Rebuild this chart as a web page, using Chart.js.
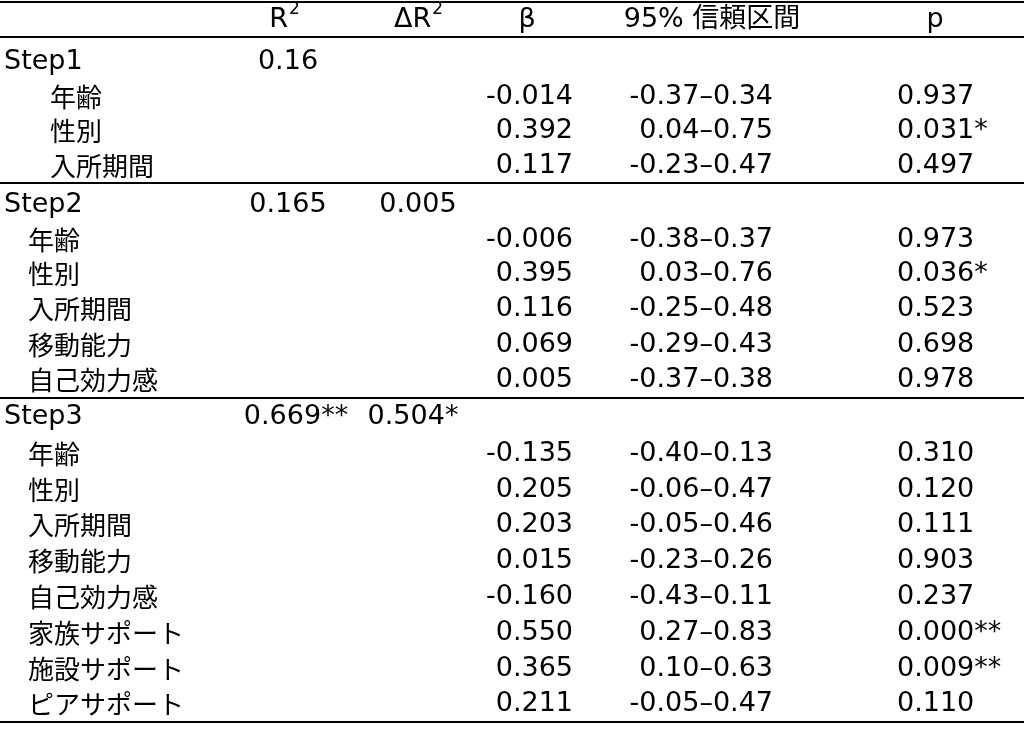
<!DOCTYPE html>
<html><head><meta charset="utf-8">
<script src="https://cdn.jsdelivr.net/npm/chart.js@4"></script>
<style>html,body{margin:0;padding:0;background:#fff}#w{width:1024px;height:741px}</style>
</head><body><div id="w"><canvas id="c"></canvas></div>
<script>
const headers = ["R2","ΔR2","β","95% 信頼区間","p"];
const labels = ["Step1","年齢","性別","入所期間","Step2","年齢","性別","入所期間","移動能力","自己効力感","Step3","年齢","性別","入所期間","移動能力","自己効力感","家族サポート","施設サポート","ピアサポート"];
const r2 = ["0.16","","","","0.165","","","","","","0.669**","","","","","","","",""];
const dr2 = ["","","","","0.005","","","","","","0.504*","","","","","","","",""];
const beta = ["","-0.014","0.392","0.117","","-0.006","0.395","0.116","0.069","0.005","","-0.135","0.205","0.203","0.015","-0.160","0.550","0.365","0.211"];
const ci = ["","-0.37–0.34","0.04–0.75","-0.23–0.47","","-0.38–0.37","0.03–0.76","-0.25–0.48","-0.29–0.43","-0.37–0.38","","-0.40–0.13","-0.06–0.47","-0.05–0.46","-0.23–0.26","-0.43–0.11","0.27–0.83","0.10–0.63","-0.05–0.47"];
const pv = ["","0.937","0.031*","0.497","","0.973","0.036*","0.523","0.698","0.978","","0.310","0.120","0.111","0.903","0.237","0.000**","0.009**","0.110"];
const rowY = [62,97,131,166,205,240,274,309,345,380,417,454,490,525,561,597,633,669,704];
const ruleY = [2,37,183,398,722];
const F = '27px "DejaVu Sans","Noto Sans CJK JP",sans-serif';
const FC = '26px "Noto Sans CJK JP",sans-serif';
const tablePlugin = {id:'table', afterDraw(ch){
  const c = ch.ctx, X = ch.scales.x, Y = ch.scales.y;
  const px = v => X.getPixelForValue(v), py = v => Y.getPixelForValue(v);
  c.save(); c.fillStyle='#000'; c.strokeStyle='#000'; c.lineWidth=2;
  ruleY.forEach(y=>{c.beginPath();c.moveTo(px(0),py(y));c.lineTo(px(1024),py(y));c.stroke();});
  c.font=F; c.textBaseline='middle';
  const hy = py(20);
  const sup=(base,x)=>{c.textAlign='left';c.font=F;const w=c.measureText(base).width;c.font='17px "DejaVu Sans"';const w2=c.measureText('2').width;const s=x-(w+w2)/2;c.font=F;c.fillText(base,s,hy);c.font='17px "DejaVu Sans"';c.fillText('2',s+w+1,hy-10);c.font=F;};
  sup('R',px(284)); sup('ΔR',px(418));
  c.textAlign='center'; c.fillText(headers[2],px(527),hy); c.font=F; c.fillText(headers[3],px(712),hy); c.fillText(headers[4],px(935),hy);
  labels.forEach((l,i)=>{
    const y=py(rowY[i]); const isStep=l.startsWith('Step');
    const indent = isStep?4:(i<4?50:28);
    c.textAlign='left'; c.font=isStep?F:FC; c.fillText(l,px(indent),y); c.font=F;
    c.textAlign='center'; if(r2[i]) c.fillText(r2[i],px(i==10?296:288),y); if(dr2[i]) c.fillText(dr2[i],px(i==10?413:418),y);
    c.textAlign='right'; if(beta[i]) c.fillText(beta[i],px(573),y); if(ci[i]) c.fillText(ci[i],px(773),y);
    c.textAlign='left'; if(pv[i]) c.fillText(pv[i],px(897),y);
  });
  c.restore();
}};
new Chart(document.getElementById('c'),{type:'scatter',
  data:{datasets:[{data:rowY.map(y=>({x:0,y})),pointRadius:0}]},
  options:{responsive:true,maintainAspectRatio:false,animation:false,layout:{padding:0},
    plugins:{legend:{display:false},tooltip:{enabled:false}},
    scales:{x:{display:false,min:0,max:1024},y:{display:false,min:0,max:741,reverse:true}}},
  plugins:[tablePlugin]});
</script></body></html>
